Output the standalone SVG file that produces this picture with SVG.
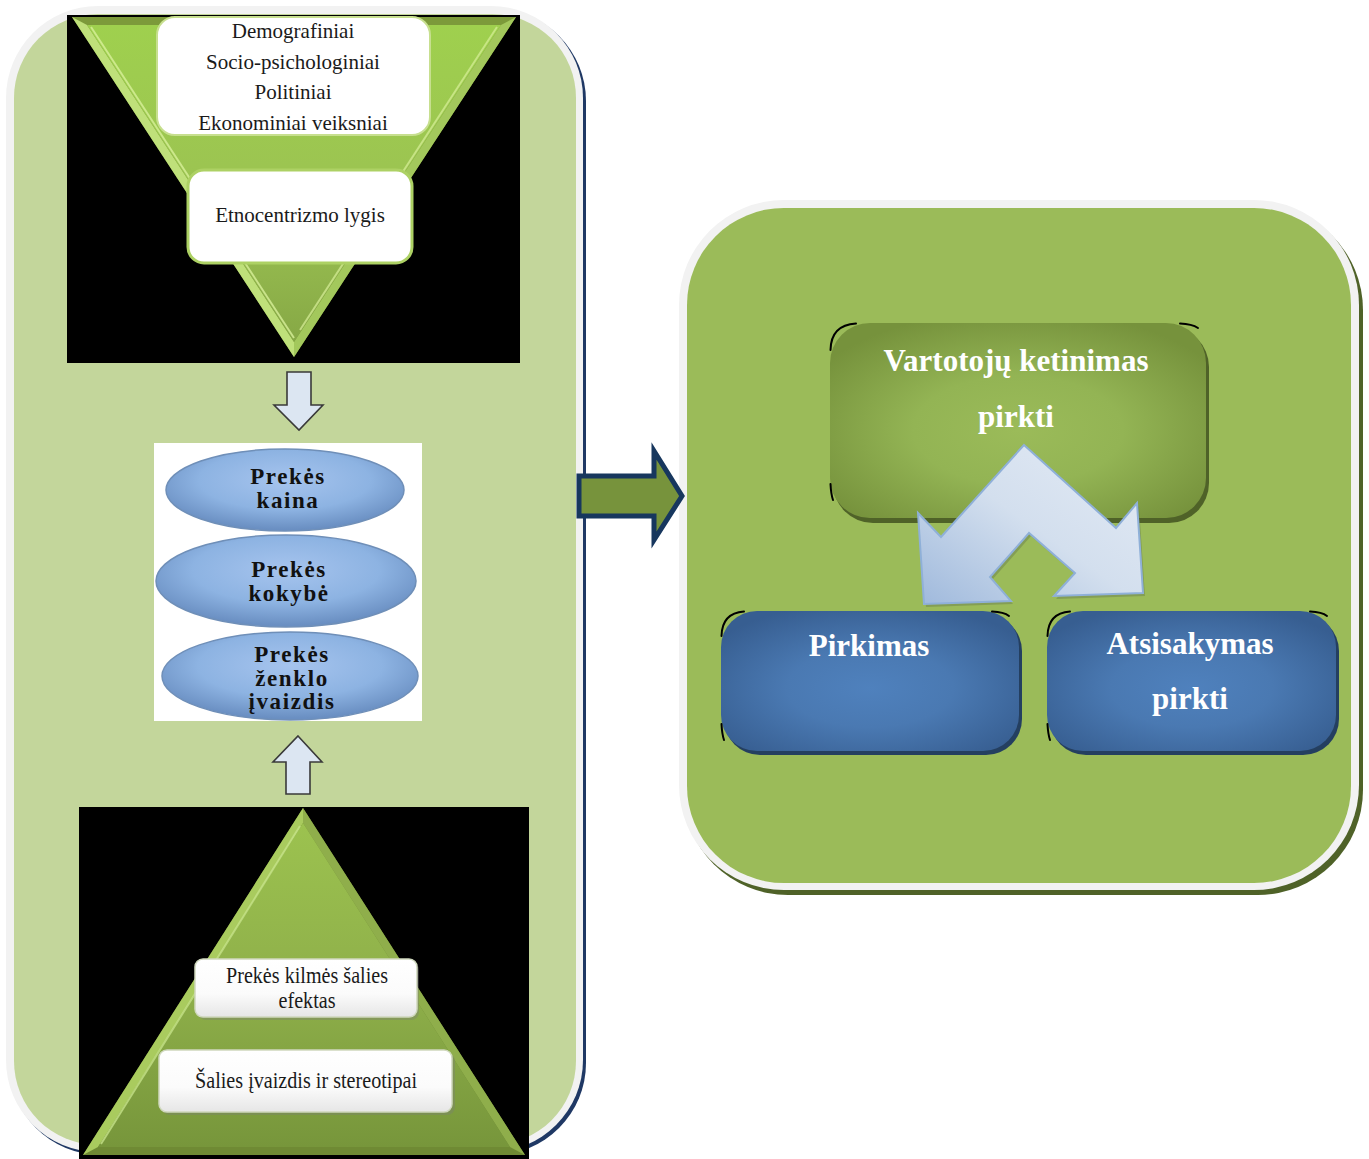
<svg xmlns="http://www.w3.org/2000/svg" width="1369" height="1159" viewBox="0 0 1369 1159">
  <style>
    .serif { font-family: "Liberation Serif", "Times New Roman", serif; }
    .lbl { font-size: 21px; fill: #1a1a1a; text-anchor: middle; }
    .lbl2 { font-size: 23px; fill: #1a1a1a; text-anchor: middle; }
    .oval { font-size: 23px; font-weight: bold; fill: #111; text-anchor: middle; letter-spacing: 1.6px; }
    .head { font-size: 31px; font-weight: bold; fill: #ffffff; text-anchor: middle; }
    .corner { fill: none; stroke: #000; stroke-width: 2; stroke-linecap: round; }
    .hollow { fill: #dce6f2; stroke: #3a3a3a; stroke-width: 1.6; stroke-linejoin: miter; }
  </style>
  <defs>
    <linearGradient id="triDown" x1="0" y1="0" x2="0" y2="1">
      <stop offset="0" stop-color="#9fd04e"/>
      <stop offset="0.6" stop-color="#9bc152"/>
      <stop offset="1" stop-color="#86a845"/>
    </linearGradient>
    <linearGradient id="triUp" x1="0" y1="0" x2="0" y2="1">
      <stop offset="0" stop-color="#9cc24f"/>
      <stop offset="0.5" stop-color="#8fb04a"/>
      <stop offset="1" stop-color="#77963b"/>
    </linearGradient>
    <radialGradient id="olive" cx="50%" cy="55%" r="62%">
      <stop offset="0" stop-color="#9bbb59"/>
      <stop offset="0.45" stop-color="#93b454"/>
      <stop offset="1" stop-color="#76923c"/>
    </radialGradient>
    <radialGradient id="blue" cx="50%" cy="55%" r="62%">
      <stop offset="0" stop-color="#4f81bd"/>
      <stop offset="0.45" stop-color="#4a79b2"/>
      <stop offset="1" stop-color="#375e91"/>
    </radialGradient>
    <radialGradient id="oval" cx="50%" cy="38%" r="60%">
      <stop offset="0" stop-color="#a6c4ee"/>
      <stop offset="0.6" stop-color="#8db3e2"/>
      <stop offset="1" stop-color="#6a8fc2"/>
    </radialGradient>
    <linearGradient id="card" x1="0" y1="0" x2="0" y2="1">
      <stop offset="0" stop-color="#ffffff"/>
      <stop offset="0.6" stop-color="#fbfbfb"/>
      <stop offset="1" stop-color="#e6e6e6"/>
    </linearGradient>
    <linearGradient id="bend" x1="0" y1="1" x2="1" y2="0">
      <stop offset="0" stop-color="#9fb9dc"/>
      <stop offset="0.5" stop-color="#d3dfee"/>
      <stop offset="1" stop-color="#e4ebf5"/>
    </linearGradient>
  </defs>

  <!-- left container -->
  <g id="left-panel">
    <rect x="9" y="9" width="577" height="1146" rx="92" fill="#1f3864"/>
    <rect x="6" y="6" width="577" height="1146" rx="92" fill="#f2f2f2"/>
    <rect x="14" y="14" width="562" height="1131" rx="84" fill="#c3d69b"/>
  </g>

  <!-- right container -->
  <g id="right-panel">
    <rect x="683" y="205" width="680" height="690" rx="105" fill="#4f6228"/>
    <rect x="679" y="200" width="680" height="690" rx="105" fill="#f2f2f2"/>
    <rect x="687" y="208" width="664" height="675" rx="97" fill="#9bbb59"/>
  </g>

  <!-- inverted funnel of factors -->
  <g id="funnel">
    <rect x="67" y="15" width="453" height="348" fill="#000"/>
    <polygon points="72,17 516,17 294,357" fill="#7c9a3a"/>
    <polygon points="72,17 294,357 294,342 87,25" fill="#bfe07a"/>
    <polygon points="516,17 294,357 294,342 501,25" fill="#a3c85c"/>
    <polygon points="87,25 501,25 294,342" fill="url(#triDown)"/>
    <polyline points="91,27 294,338" fill="none" stroke="#d8f09a" stroke-width="2" opacity="0.8"/>
    <polyline points="497,27 300,330" fill="none" stroke="#d8f09a" stroke-width="2" opacity="0.7"/>
  </g>

  <g id="factors">
    <rect x="157" y="17" width="273" height="118" rx="18" fill="#fff" stroke="#c7df8f" stroke-width="2"/>
    <text class="serif lbl" x="293" y="38">Demografiniai</text>
    <text class="serif lbl" x="293" y="69">Socio-psichologiniai</text>
    <text class="serif lbl" x="293" y="99">Politiniai</text>
    <text class="serif lbl" x="293" y="130">Ekonominiai veiksniai</text>
  </g>

  <g id="ethnocentrism">
    <rect x="188" y="170" width="224" height="93" rx="16" fill="#fff" stroke="#add164" stroke-width="3"/>
    <text class="serif lbl" x="300" y="222">Etnocentrizmo lygis</text>
  </g>

  <!-- product attributes -->
  <g id="attributes">
    <rect x="154" y="443" width="268" height="278" fill="#fff"/>
  </g>
  <g id="price">
    <ellipse cx="285" cy="490" rx="119" ry="41" fill="url(#oval)" stroke="#6f8fb8" stroke-width="1.5"/>
    <text class="serif oval" x="288" y="484">Prekės</text>
    <text class="serif oval" x="288" y="508">kaina</text>
  </g>
  <g id="quality">
    <ellipse cx="286" cy="581" rx="130" ry="46" fill="url(#oval)" stroke="#6f8fb8" stroke-width="1.5"/>
    <text class="serif oval" x="289" y="577">Prekės</text>
    <text class="serif oval" x="289" y="601">kokybė</text>
  </g>
  <g id="brand">
    <ellipse cx="290" cy="676" rx="128" ry="44" fill="url(#oval)" stroke="#6f8fb8" stroke-width="1.5"/>
    <text class="serif oval" x="292" y="662">Prekės</text>
    <text class="serif oval" x="292" y="686">ženklo</text>
    <text class="serif oval" x="292" y="709">įvaizdis</text>
  </g>

  <!-- country pyramid -->
  <g id="pyramid">
    <rect x="79" y="807" width="450" height="352" fill="#000"/>
    <polygon points="303,808 83,1155 525,1155" fill="#6f8a34"/>
    <polygon points="303,808 83,1155 98,1147 303,823" fill="#a9cb5e"/>
    <polygon points="303,808 525,1155 510,1147 303,823" fill="#8fae4b"/>
    <polygon points="303,823 98,1147 510,1147" fill="url(#triUp)"/>
    <polyline points="300,826 101,1144" fill="none" stroke="#c6e288" stroke-width="2" opacity="0.8"/>
  </g>

  <g id="origin-effect">
    <rect x="198" y="962" width="221" height="58" rx="8" fill="#7a7a7a" opacity="0.35"/>
    <rect x="195" y="959" width="222" height="58" rx="8" fill="url(#card)" stroke="#cfd8bd" stroke-width="1.5"/>
    <text class="serif lbl2" x="307" y="983" textLength="162" lengthAdjust="spacingAndGlyphs">Prekės kilmės šalies</text>
    <text class="serif lbl2" x="307" y="1008" textLength="57" lengthAdjust="spacingAndGlyphs">efektas</text>
  </g>

  <g id="country-image">
    <rect x="162" y="1053" width="293" height="62" rx="8" fill="#7a7a7a" opacity="0.35"/>
    <rect x="159" y="1050" width="293" height="62" rx="8" fill="url(#card)" stroke="#cfd8bd" stroke-width="1.5"/>
    <text class="serif lbl2" x="306" y="1088" textLength="222" lengthAdjust="spacingAndGlyphs">Šalies įvaizdis ir stereotipai</text>
  </g>

  <!-- decision boxes -->
  <g id="intention">
    <rect x="833" y="327" width="376" height="196" rx="40" fill="#4f6228"/>
    <rect x="830" y="323" width="376" height="195" rx="40" fill="url(#olive)"/>
    <path class="corner" d="M830.5,350 Q831,325 856,323.5"/>
    <path class="corner" d="M1180,323.5 Q1192,324 1198,328"/>
    <path class="corner" d="M830.5,484 Q831,494 833,500"/>
    <text class="serif head" x="1016" y="371">Vartotojų ketinimas</text>
    <text class="serif head" x="1016" y="427">pirkti</text>
  </g>

  <g id="purchase">
    <rect x="724" y="615" width="298" height="140" rx="36" fill="#243f60"/>
    <rect x="721" y="611" width="298" height="140" rx="36" fill="url(#blue)"/>
    <path class="corner" d="M721.5,636 Q722,613 744,611.5"/>
    <path class="corner" d="M992,611.5 Q1004,612 1009,616"/>
    <path class="corner" d="M721.5,724 Q722,734 724,740"/>
    <text class="serif head" x="869" y="656">Pirkimas</text>
  </g>

  <g id="refusal">
    <rect x="1050" y="615" width="289" height="140" rx="36" fill="#243f60"/>
    <rect x="1047" y="611" width="289" height="140" rx="36" fill="url(#blue)"/>
    <path class="corner" d="M1047.5,636 Q1048,613 1070,611.5"/>
    <path class="corner" d="M1310,611.5 Q1322,612 1327,616"/>
    <path class="corner" d="M1047.5,724 Q1048,734 1050,740"/>
    <text class="serif head" x="1190" y="654">Atsisakymas</text>
    <text class="serif head" x="1190" y="709">pirkti</text>
  </g>

  <!-- connectors -->
  <g id="connectors">
    <polygon class="hollow" points="287,372 311,372 311,405 323,405 299,430 274,405 287,405"/>
    <polygon class="hollow" points="298,736 322,762 310,762 310,794 286,794 286,762 273,762"/>
    <polygon points="579,476 654,476 654,451 682,496 654,540 654,516 579,516" fill="#77933c" stroke="#17375e" stroke-width="5" stroke-linejoin="miter"/>
    <polygon points="1025,448 1118,530 1139,506 1145,596 1056,599 1077,576 1031,536 992,580 1013,604 926,607 920,516 943,539" fill="#5a6a4a" opacity="0.35"/>
    <polygon points="1024,445 1116,528 1137,503 1143,593 1054,596 1075,573 1029,533 990,577 1011,601 924,604 918,513 941,537" fill="url(#bend)" stroke="#8fb0d8" stroke-width="2" stroke-linejoin="miter"/>
  </g>
</svg>
